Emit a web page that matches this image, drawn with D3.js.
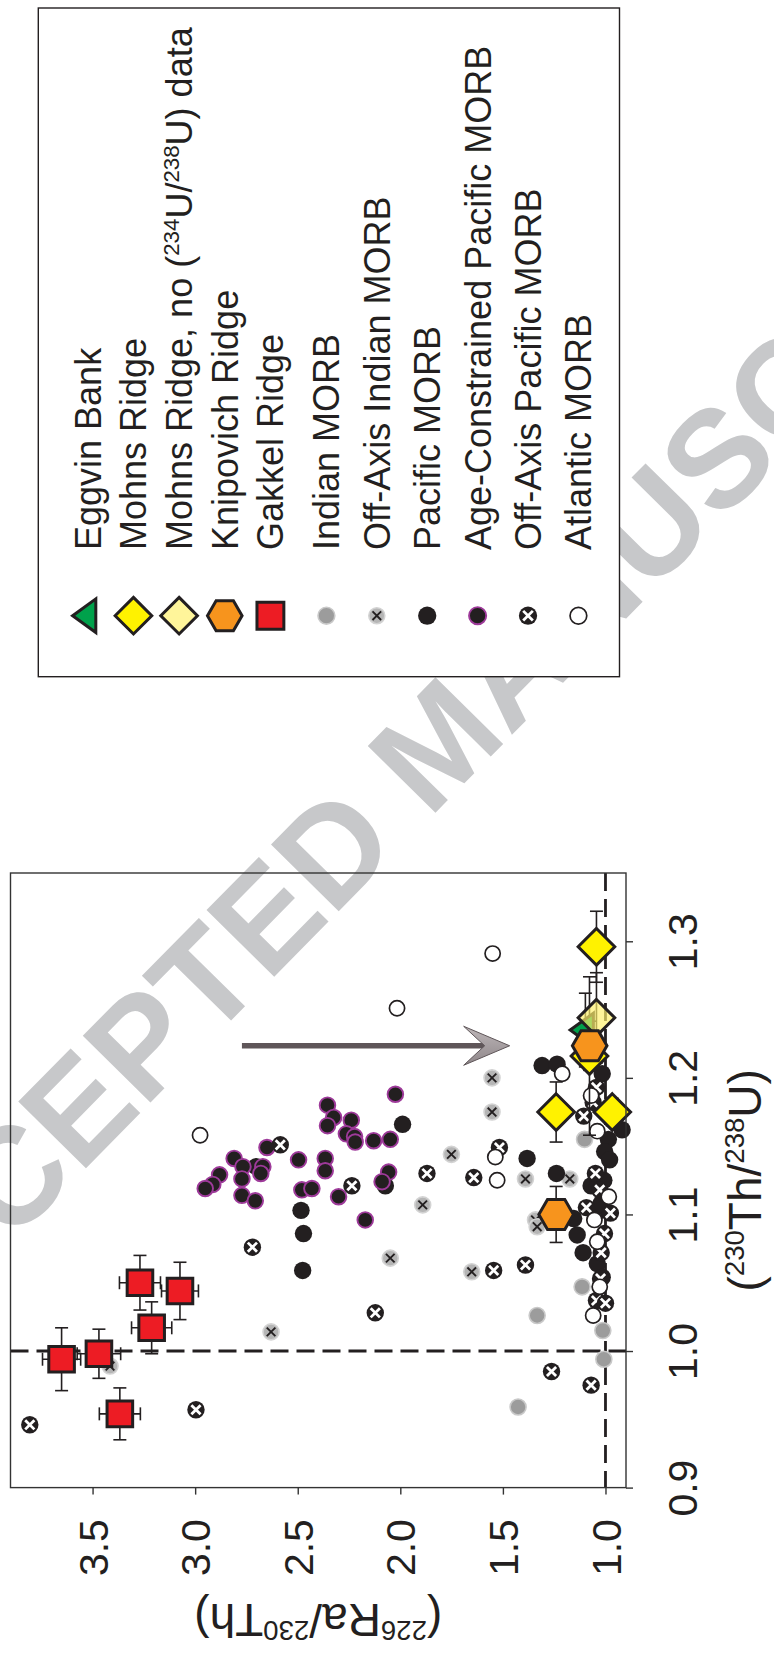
<!DOCTYPE html>
<html>
<head>
<meta charset="utf-8">
<script src="https://cdn.jsdelivr.net/npm/d3@7"></script>
<style>
  html, body { margin: 0; padding: 0; background: #fff; }
  svg { display: block; }
</style>
</head>
<body>
<div id="chart"></div>
<script>
// Each point is [(226Ra/230Th), (230Th/238U)]
const indianMorb = [
  [1.333, 1.026], [1.114, 1.047], [1.102, 1.155], [1.426, 0.959], [1.013, 1.015], [1.008, 0.994]
];
const offAxisIndianMorb = [
  [3.415, 0.989], [2.630, 1.014], [2.049, 1.068], [1.891, 1.107], [1.751, 1.144], [1.553, 1.200],
  [1.553, 1.175], [1.652, 1.058], [1.390, 1.126], [1.174, 1.126], [1.341, 1.096], [1.333, 1.091]
];
const pacificMorb = [
  [1.989, 1.166], [2.484, 1.103], [2.472, 1.086], [2.476, 1.059], [2.073, 1.121], [2.702, 1.135],
  [1.309, 1.209], [1.236, 1.210], [1.016, 1.203], [1.382, 1.141], [1.239, 1.130], [1.070, 1.121],
  [1.040, 1.120], [1.008, 1.125], [0.919, 1.162], [0.986, 1.155], [1.004, 1.146], [0.980, 1.140],
  [1.155, 1.097], [1.024, 1.103], [1.138, 1.085], [1.109, 1.072], [1.040, 1.064], [1.016, 1.054],
  [1.021, 1.108]
];
const ageConstrainedPacificMorb = [
  [2.024, 1.188], [2.355, 1.180], [2.325, 1.171], [2.355, 1.165], [2.239, 1.169], [2.263, 1.159],
  [2.223, 1.157], [2.220, 1.153], [2.130, 1.154], [2.049, 1.155], [2.650, 1.149], [2.810, 1.141],
  [2.767, 1.135], [2.772, 1.126], [2.881, 1.129], [2.914, 1.122], [2.951, 1.119], [2.670, 1.135],
  [2.680, 1.130], [2.772, 1.114], [2.707, 1.110], [2.496, 1.140], [2.366, 1.141], [2.366, 1.132],
  [2.480, 1.118], [2.431, 1.119], [2.301, 1.113], [2.057, 1.131], [2.089, 1.124], [2.171, 1.096]
];
const offAxisPacificMorb = [
  [3.806, 0.946], [2.996, 0.957], [2.721, 1.076], [2.585, 1.151], [2.236, 1.121], [1.870, 1.130],
  [2.122, 1.028], [1.642, 1.127], [1.517, 1.149], [1.545, 1.059], [1.390, 1.063], [1.263, 0.985],
  [1.070, 0.975], [1.044, 1.193], [1.060, 1.182], [1.106, 1.172], [1.049, 1.130], [1.028, 1.118],
  [1.093, 1.105], [0.976, 1.101], [1.005, 1.086], [1.021, 1.072], [1.044, 1.037], [1.000, 1.035],
  [1.024, 1.053]
];
const atlanticMorb = [
  [2.976, 1.158], [2.016, 1.251], [1.550, 1.291], [1.211, 1.203], [1.070, 1.187], [1.040, 1.161],
  [1.537, 1.142], [1.528, 1.125], [0.984, 1.113], [1.054, 1.096], [1.040, 1.080], [1.028, 1.047],
  [1.060, 1.026]
];

// Ridge samples: [Ra/Th, Th/U, 2σ on Ra/Th, 2σ on Th/U]
const gakkelRidge = [
  [3.651, 0.994, 0.093, 0.023], [3.469, 0.998, 0.106, 0.018], [3.367, 0.954, 0.100, 0.019],
  [3.269, 1.050, 0.100, 0.020], [3.212, 1.017, 0.098, 0.019], [3.074, 1.044, 0.090, 0.021]
];
const mohnsRidge = [
  [1.044, 1.296, 0, 0.026], [1.2405, 1.175, 0, 0.022], [0.967, 1.175, 0, 0.010], [1.078, 1.216, 0, 0.058]
];
const mohnsRidgeNo234 = [
  [1.044, 1.244, 0, 0.033]
];
const knipovichRidge = [
  [1.077, 1.2235, 0, 0.018], [1.2405, 1.100, 0, 0.0205]
];
const eggvinBank = [
  [1.098, 1.235, 0, 0.027]
];

// melting trend arrow, [Ra/Th, Th/U] at tail and tip
const trendArrow = [[2.772, 1.2235], [1.467, 1.2235]];

const raTicks = [3.5, 3.0, 2.5, 2.0, 1.5, 1.0];
const thuTicks = [0.9, 1.0, 1.1, 1.2, 1.3];
const raDomain = [3.9, 0.9];
const thuDomain = [0.9, 1.35];

const legendLabels = [
  'Eggvin Bank', 'Mohns Ridge', 'Mohns Ridge, no (^234U/^238U) data', 'Knipovich Ridge', 'Gakkel Ridge',
  'Indian MORB', 'Off-Axis Indian MORB', 'Pacific MORB', 'Age-Constrained Pacific MORB',
  'Off-Axis Pacific MORB', 'Atlantic MORB'
];

// ---------------------------------------------------------------------------
const W = 774, H = 1654;
const FONT = '"Liberation Sans", Arial, Helvetica, sans-serif';
const INK = '#231f20';

const svg = d3.select('#chart').append('svg')
  .attr('width', W).attr('height', H)
  .attr('font-family', FONT);

// journal watermark, underneath everything
svg.append('text')
  .attr('transform', 'translate(-130,1388) rotate(-45.5)')
  .attr('font-weight', 'bold')
  .attr('font-size', 138)
  .attr('fill', '#c7c8ca')
  .text('ACCEPTED MANUSCRIPT');

const x = d3.scaleLinear().domain(raDomain).range([10.5, 626]);
const y = d3.scaleLinear().domain(thuDomain).range([1487.6, 873]);

// text with ^NNN superscripts
function richText(sel, str, size, supScale) {
  const parts = str.split(/(\^\d+)/).filter(s => s.length);
  let raised = false;
  parts.forEach(p => {
    if (p[0] === '^') {
      sel.append('tspan').attr('font-size', size * supScale)
        .attr('dy', raised ? 0 : -size * 0.36).text(p.slice(1));
      raised = true;
    } else {
      sel.append('tspan').attr('font-size', size)
        .attr('dy', raised ? size * 0.36 : 0).text(p);
      raised = false;
    }
  });
}

// marker painters
const shapes = {
  diamond: r => `M0,${-r}L${r},0L0,${r}L${-r},0Z`,
  hexagon: r => {
    const h = r * Math.sqrt(3) / 2;
    return `M${r},0L${r / 2},${h}L${-r / 2},${h}L${-r},0L${-r / 2},${-h}L${r / 2},${-h}Z`;
  },
  square: r => `M${-r},${-r}H${r}V${r}H${-r}Z`,
  triangleLeft: r => `M${-r * 0.95},0L${r * 0.5},${-r * 1.05}L${r * 0.5},${r * 1.05}Z`
};

const styles = {
  eggvin:   { shape: 'triangleLeft', r: 16, fill: '#00a14b' },
  mohns:    { shape: 'diamond', r: 18.3, fill: '#fff200' },
  mohnsNo:  { shape: 'diamond', r: 18.3, fill: '#fff06a', fillOpacity: 0.68 },
  knipovich:{ shape: 'hexagon', r: 17.3, fill: '#f7941d' },
  gakkel:   { shape: 'square', r: 12.8, fill: '#ed1c24' },
  indian:   { circle: true, r: 8, fill: '#9c9c9c', stroke: '#c9c9c9', sw: 1.6 },
  offIndian:{ circle: true, r: 8, fill: '#b5b5b5', stroke: '#d3d3d3', sw: 1.6, cross: INK, crossW: 1.9, crossR: 4.3 },
  pacific:  { circle: true, r: 8.7, fill: INK },
  ageConst: { circle: true, r: 7.8, fill: INK, stroke: '#9e3a9a', sw: 1.9 },
  offPacific:{ circle: true, r: 8.7, fill: INK, cross: '#fff', crossW: 2.8, crossR: 4.6 },
  atlantic: { circle: true, r: 7.6, fill: '#fff', stroke: INK, sw: 1.7 }
};

function paint(g, st, scale) {
  const k = scale || 1;
  if (st.circle) {
    g.append('circle').attr('r', st.r * k)
      .attr('fill', st.fill)
      .attr('stroke', st.stroke || 'none')
      .attr('stroke-width', st.sw || 0);
    if (st.cross) {
      const c = st.crossR * k;
      g.append('path').attr('d', `M${-c},${-c}L${c},${c}M${-c},${c}L${c},${-c}`)
        .attr('stroke', st.cross).attr('stroke-width', st.crossW).attr('stroke-linecap', 'butt');
    }
  } else {
    g.append('path').attr('d', shapes[st.shape](st.r * k))
      .attr('fill', st.fill)
      .attr('fill-opacity', st.fillOpacity == null ? 1 : st.fillOpacity)
      .attr('stroke', INK).attr('stroke-width', 3).attr('stroke-linejoin', 'miter');
  }
}

// ---------------------------------------------------------------------------
// legend
const legend = svg.append('g');
legend.append('rect')
  .attr('x', 38.3).attr('y', 8).attr('width', 581.2).attr('height', 668.7)
  .attr('fill', '#fff').attr('stroke', INK).attr('stroke-width', 1.4);

const legendStyles = [styles.eggvin, styles.mohns, styles.mohnsNo, styles.knipovich, styles.gakkel,
  styles.indian, styles.offIndian, styles.pacific, styles.ageConst, styles.offPacific, styles.atlantic];
const legendScale = [1.0, 1.0, 1.0, 1.0, 1.05, 1.05, 1.0, 1.05, 1.1, 1.05, 1.1];
const LEG_FS = 36;
legendLabels.forEach((label, i) => {
  const base = i < 5 ? 100.7 + i * 45.65 : 339.3 + (i - 5) * 50.4;
  const t = legend.append('text')
    .attr('transform', `translate(${base},550) rotate(-90)`)
    .attr('fill', INK);
  richText(t, label, LEG_FS, 0.62);
  const m = legend.append('g').attr('transform', `translate(${base - 0.358 * LEG_FS},615.7)`);
  paint(m, legendStyles[i], legendScale[i]);
});

// ---------------------------------------------------------------------------
// plot
const plot = svg.append('g');

// reference lines at secular equilibrium
plot.append('line')
  .attr('x1', x(1)).attr('x2', x(1)).attr('y1', y.range()[1]).attr('y2', y.range()[0])
  .attr('stroke', INK).attr('stroke-width', 2.8).attr('stroke-dasharray', '18,8');
plot.append('line')
  .attr('x1', x.range()[0]).attr('x2', x.range()[1]).attr('y1', y(1)).attr('y2', y(1))
  .attr('stroke', INK).attr('stroke-width', 2.8).attr('stroke-dasharray', '18,8');

function scatter(data, st) {
  plot.append('g').selectAll('g').data(data).join('g')
    .attr('transform', d => `translate(${x(d[0])},${y(d[1])})`)
    .each(function () { paint(d3.select(this), st); });
}

scatter(indianMorb, styles.indian);
scatter(offAxisIndianMorb, styles.offIndian);
scatter(pacificMorb, styles.pacific);
scatter(ageConstrainedPacificMorb, styles.ageConst);
scatter(offAxisPacificMorb, styles.offPacific);
scatter(atlanticMorb, styles.atlantic);

// error bars for the ridge samples
const err = plot.append('g').attr('stroke', INK).attr('stroke-width', 1.6).attr('fill', 'none');
function errorBars(data) {
  data.forEach(d => {
    const cx = x(d[0]), cy = y(d[1]);
    if (d[3] > 0) {
      const y0 = y(d[1] - d[3]), y1 = y(d[1] + d[3]);
      err.append('line').attr('x1', cx).attr('x2', cx).attr('y1', y0).attr('y2', y1);
      [y0, y1].forEach(v => err.append('line').attr('x1', cx - 6.5).attr('x2', cx + 6.5).attr('y1', v).attr('y2', v));
    }
    if (d[2] > 0) {
      const x0 = x(d[0] - d[2]), x1 = x(d[0] + d[2]);
      err.append('line').attr('x1', x0).attr('x2', x1).attr('y1', cy).attr('y2', cy);
      [x0, x1].forEach(v => err.append('line').attr('x1', v).attr('x2', v).attr('y1', cy - 6.5).attr('y2', cy + 6.5));
    }
  });
}
[gakkelRidge, mohnsRidge, mohnsRidgeNo234, knipovichRidge, eggvinBank].forEach(errorBars);

scatter(gakkelRidge, styles.gakkel);
scatter(mohnsRidge, styles.mohns);
scatter(eggvinBank, styles.eggvin);
scatter(mohnsRidgeNo234, styles.mohnsNo);
scatter(knipovichRidge, styles.knipovich);

// trend arrow
const defs = svg.append('defs');
const grad = defs.append('linearGradient').attr('id', 'headFill').attr('x1', 0).attr('x2', 0).attr('y1', 0).attr('y2', 1);
grad.append('stop').attr('offset', '0%').attr('stop-color', '#bdb6b8');
grad.append('stop').attr('offset', '100%').attr('stop-color', '#8f878a');
const ax0 = x(trendArrow[0][0]), ax1 = x(trendArrow[1][0]), ay = y(trendArrow[0][1]);
plot.append('line')
  .attr('x1', ax0).attr('x2', ax1 - 22).attr('y1', ay).attr('y2', ay)
  .attr('stroke', '#5f5659').attr('stroke-width', 5.5);
plot.append('path')
  .attr('d', `M${ax1},${ay}L${ax1 - 46},${ay - 19.5}L${ax1 - 25},${ay}L${ax1 - 46},${ay + 19.5}Z`)
  .attr('fill', 'url(#headFill)').attr('stroke', '#5f5659').attr('stroke-width', 1);

// frame
plot.append('rect')
  .attr('x', x.range()[0]).attr('y', y.range()[1])
  .attr('width', x.range()[1] - x.range()[0]).attr('height', y.range()[0] - y.range()[1])
  .attr('fill', 'none').attr('stroke', '#333').attr('stroke-width', 1.4);

// axes
const TICK_FS = 41;
const raAxis = svg.append('g')
  .attr('transform', `translate(0,${y.range()[0]})`)
  .call(d3.axisBottom(x).tickValues(raTicks).tickFormat(d3.format('.1f')).tickSize(7).tickSizeOuter(0));
raAxis.select('.domain').remove();
raAxis.selectAll('.tick line').attr('stroke', '#333').attr('stroke-width', 1.4);
raAxis.selectAll('.tick text')
  .attr('x', null).attr('y', null).attr('dy', null)
  .attr('transform', `translate(${0.358 * TICK_FS},31.5) rotate(-90)`)
  .attr('text-anchor', 'end')
  .attr('font-family', FONT).attr('font-size', TICK_FS).attr('fill', INK);

const thuAxis = svg.append('g')
  .attr('transform', `translate(${x.range()[1]},0)`)
  .call(d3.axisRight(y).tickValues(thuTicks).tickFormat(d3.format('.1f')).tickSize(7).tickSizeOuter(0));
thuAxis.select('.domain').remove();
thuAxis.selectAll('.tick line').attr('stroke', '#333').attr('stroke-width', 1.4);
thuAxis.selectAll('.tick text')
  .attr('x', null).attr('y', null).attr('dy', null)
  .attr('transform', 'translate(70.7,0) rotate(-90)')
  .attr('text-anchor', 'middle')
  .attr('font-family', FONT).attr('font-size', TICK_FS).attr('fill', INK);

// axis titles
const TITLE_FS = 46;
const raTitle = svg.append('text')
  .attr('transform', `translate(${(x.range()[0] + x.range()[1]) / 2},1604) rotate(180)`)
  .attr('text-anchor', 'middle').attr('fill', INK);
richText(raTitle, '(^226Ra/^230Th)', TITLE_FS, 0.6);

const thuTitle = svg.append('text')
  .attr('transform', `translate(761,${(y.range()[0] + y.range()[1]) / 2}) rotate(-90)`)
  .attr('text-anchor', 'middle').attr('fill', INK);
richText(thuTitle, '(^230Th/^238U)', TITLE_FS, 0.6);
</script>
</body>
</html>
